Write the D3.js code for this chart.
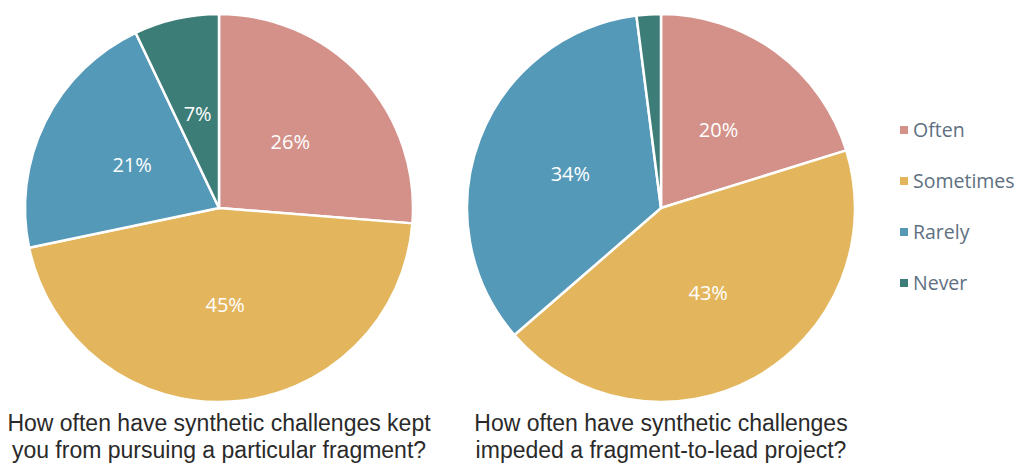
<!DOCTYPE html>
<html>
<head>
<meta charset="utf-8">
<script src="https://cdn.jsdelivr.net/npm/d3@7"></script>
<style>
  html, body { margin: 0; padding: 0; background: #fff; }
  svg { display: block; }
</style>
</head>
<body>
<svg id="chart" width="1020" height="464"></svg>
<script>
// Answer categories shared by both survey questions
const categories = ["Often", "Sometimes", "Rarely", "Never"];
// Share of respondents (%) per category
const keptFromFragment = [26, 45, 21, 7];
const impededProject = [20, 43, 34, 2];
// Question titles, one entry per line
const titleLeft = ["How often have synthetic challenges kept", "you from pursuing a particular fragment?"];
const titleRight = ["How often have synthetic challenges", "impeded a fragment-to-lead project?"];

const colors = ["#D4918A", "#E3B65E", "#5599B8", "#3D7D78"];
const color = d3.scaleOrdinal().domain(categories).range(colors);

const svg = d3.select("#chart");
const radius = 194;

const pie = d3.pie().sort(null).value(d => d.value);
const arc = d3.arc().innerRadius(0).outerRadius(radius);
const labelArc = d3.arc().innerRadius(radius * 0.5).outerRadius(radius * 0.5);

function drawPie(cx, cy, values, title, minLabel) {
  const data = categories.map((c, i) => ({ category: c, value: values[i] }));
  const g = svg.append("g").attr("transform", `translate(${cx},${cy})`);
  const arcs = pie(data);

  g.selectAll("path.slice")
    .data(arcs)
    .join("path")
    .attr("class", "slice")
    .attr("d", arc)
    .attr("fill", d => color(d.data.category))
    .attr("stroke", "#fff")
    .attr("stroke-width", 2.5)
    .attr("stroke-linejoin", "round");

  g.selectAll("text.pct")
    .data(arcs.filter(d => d.data.value >= minLabel))
    .join("text")
    .attr("class", "pct")
    .attr("transform", d => `translate(${labelArc.centroid(d)})`)
    .attr("text-anchor", "middle")
    .attr("dy", "0.36em")
    .attr("fill", "#fff")
    .style("font-family", "'Open Sans', 'Noto Sans', sans-serif")
    .style("font-size", "20px")
    .text(d => d.data.value + "%");

  const t = svg.append("text")
    .attr("x", cx)
    .attr("y", 431)
    .attr("text-anchor", "middle")
    .attr("fill", "#2a2a2a")
    .style("font-family", "'Liberation Sans', Arial, sans-serif")
    .style("font-size", "23px");
  t.selectAll("tspan")
    .data(title)
    .join("tspan")
    .attr("x", cx)
    .attr("dy", (d, i) => i === 0 ? 0 : 27)
    .text(d => d);
}

drawPie(219, 208, keptFromFragment, titleLeft, 5);
drawPie(661, 208, impededProject, titleRight, 5);

// Legend
const legend = svg.append("g").attr("transform", "translate(900,130)");
const rows = legend.selectAll("g")
  .data(categories)
  .join("g")
  .attr("transform", (d, i) => `translate(0,${i * 51})`);
rows.append("rect")
  .attr("x", 0).attr("y", -4)
  .attr("width", 8).attr("height", 8)
  .attr("fill", d => color(d));
rows.append("text")
  .attr("x", 13)
  .attr("dy", "0.36em")
  .attr("fill", "#5E7081")
  .style("font-family", "'Open Sans', 'Noto Sans', sans-serif")
  .style("font-size", "19.5px")
  .text(d => d);
</script>
</body>
</html>
